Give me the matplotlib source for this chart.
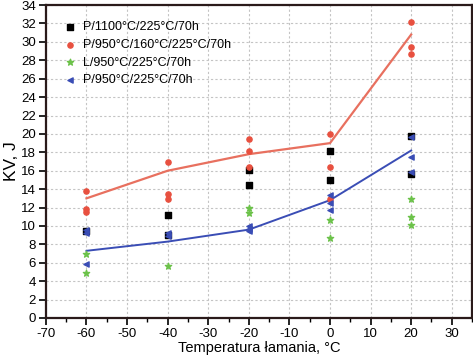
import numpy as np
import matplotlib.pyplot as plt
from matplotlib.ticker import MultipleLocator

plt.rcParams['font.family'] = ['Liberation Sans', 'DejaVu Sans']
plt.rcParams['axes.unicode_minus'] = False

# measured points, (temperature, KV)
black_x = [-60, -40, -40, -20, -20, 0, 0, 20, 20]
black_y = [9.4, 11.2, 9.0, 16.1, 14.4, 18.1, 15.0, 19.8, 15.6]

red_x = [-60, -60, -60, -40, -40, -40, -20, -20, -20, 0, 0, 0, 20, 20, 20]
red_y = [13.8, 11.8, 11.5, 16.9, 13.5, 12.9, 19.5, 18.1, 16.4, 20.0, 16.4, 12.9, 32.2, 29.4, 28.7]

green_x = [-60, -60, -40, -20, -20, 0, 0, 20, 20, 20]
green_y = [6.9, 4.9, 5.7, 12.0, 11.4, 10.6, 8.7, 12.9, 11.0, 10.1]

blue_x = [-60, -60, -60, -40, -40, -20, -20, -20, 0, 0, 0, 20, 20, 20]
blue_y = [9.6, 9.2, 5.9, 9.2, 8.9, 10.0, 9.7, 9.4, 13.4, 12.5, 11.7, 19.7, 17.5, 15.9]

# average lines
avg_x = [-60, -40, -20, 0, 20]
red_avg = [13.0, 16.0, 17.8, 19.0, 30.8]
blue_avg = [7.3, 8.3, 9.6, 12.8, 18.2]

labels = ['P/1100°C/225°C/70h', 'P/950°C/160°C/225°C/70h',
          'L/950°C/225°C/70h', 'P/950°C/225°C/70h']

red = '#e8503f'
blue = '#3a4db5'
green = '#6cc24a'

fig = plt.figure(figsize=(4.73, 3.63), dpi=100)
ax = fig.add_axes([0.097, 0.124, 0.901, 0.862])

ax.plot(avg_x, red_avg, color='#e8705f', lw=1.6, zorder=2)
ax.plot(avg_x, blue_avg, color=blue, lw=1.4, zorder=2)

ax.scatter(black_x, black_y, marker='s', s=14, color='black', label=labels[0], zorder=3)
ax.scatter(red_x, red_y, marker='o', s=14, color=red, label=labels[1], zorder=3)
ax.scatter(green_x, green_y, marker='*', s=22, color=green, label=labels[2], zorder=3)
ax.scatter(blue_x, blue_y, marker='<', s=14, color=blue, label=labels[3], zorder=3)

ax.set_xlim(-70, 35)
ax.set_ylim(0, 34)
ax.xaxis.set_major_locator(MultipleLocator(10))
ax.xaxis.set_minor_locator(MultipleLocator(5))
ax.yaxis.set_major_locator(MultipleLocator(2))
ax.grid(True, which='major', color='#c4c4c4', ls=(0, (2, 2)), lw=0.8)
ax.set_axisbelow(True)

for s in ax.spines.values():
    s.set_linewidth(1.6)
    s.set_color('#2a1a1a')

ax.tick_params(which='major', direction='out', length=5, width=1.2, labelsize=9.5, pad=2)
ax.tick_params(which='minor', direction='out', length=3, width=1.0)

ax.set_xlabel('Temperatura łamania, °C', fontsize=10.5, labelpad=1)
ax.set_ylabel('KV, J', fontsize=12.5, labelpad=2)

ax.legend(loc='upper left', frameon=False, fontsize=9, handletextpad=0.5,
          borderaxespad=0.9, labelspacing=0.45, handlelength=1.2)

plt.savefig('out.png', dpi=100)
